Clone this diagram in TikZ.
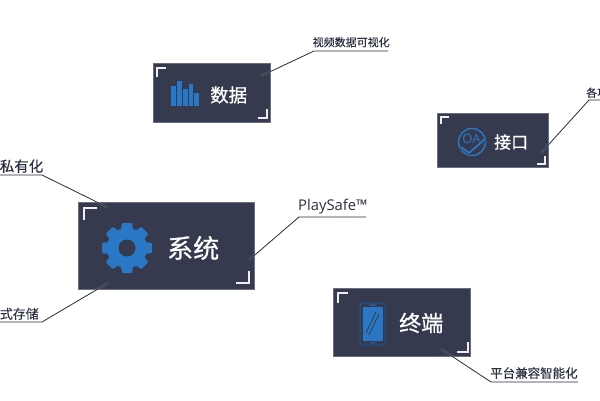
\documentclass[tikz,border=0pt]{standalone}
\usepackage{fontspec}
\setmainfont{Noto Sans CJK SC}
\newfontfamily\titlefont[FakeBold=0.7]{Noto Sans CJK SC}
\newfontfamily\notefont[FakeBold=0.15]{Noto Sans CJK SC}
\newfontfamily\latinfont{Open Sans}
\definecolor{panel}{HTML}{363A4E}
\definecolor{paneledge}{HTML}{6A6E80}
\definecolor{accent}{HTML}{2A78C5}
\definecolor{leader}{HTML}{262A3E}
\definecolor{caption}{HTML}{2A2E40}
\tikzset{
  panelbox/.style={draw=paneledge,line width=0.5pt,fill=panel,inner sep=0pt,anchor=north west},
  title/.style={text=white,inner sep=0pt,anchor=west},
  note/.style={text=caption,inner sep=0pt},
  leaderhalo/.style={draw=white,draw opacity=0.3,line width=1.8pt},
  leaderline/.style={draw=leader,line width=0.8pt},
  corner/.style={draw=white!92!panel,line width=1.2pt},
  icon/.style={fill=accent,draw=none},
}
\begin{document}
\begin{tikzpicture}[x=1pt,y=-1pt]
\useasboundingbox (0,0) rectangle (600,400);
\clip (0,0) rectangle (600,400);

% panels
\node[panelbox,minimum width=117pt,minimum height=59pt] (data) at (153,63) {};
\node[panelbox,minimum width=111pt,minimum height=54pt] (port) at (437,113) {};
\node[panelbox,minimum width=176pt,minimum height=87pt] (sys) at (78,202) {};
\node[panelbox,minimum width=137pt,minimum height=68pt] (term) at (333,288) {};

% corner brackets
\draw[corner] (157,77) -- (157,68) -- (166,68);
\draw[corner] (258,118) -- (267,118) -- (267,109);
\draw[corner] (441,124) -- (441,117) -- (449,117);
\draw[corner] (537,164) -- (545,164) -- (545,156);
\draw[corner] (84,220) -- (84,208) -- (97,208);
\draw[corner] (236,283) -- (249,283) -- (249,271);
\draw[corner] (338,303) -- (338,293) -- (348,293);
\draw[corner] (457,352) -- (468,352) -- (468,342);

% panel titles
\node[title,font=\titlefont\fontsize{18.5}{20}\selectfont] (datat) at (210,95) {数据};
\node[title,font=\titlefont\fontsize{17}{19}\selectfont] (portt) at (494,142) {接口};
\node[title,font=\titlefont\fontsize{26}{28}\selectfont] (syst) at (167,248) {系统};
\node[title,font=\titlefont\fontsize{22}{24}\selectfont] (termt) at (399,323) {终端};

% bar chart icon
\fill[icon] (171,86) rectangle (176,106);
\fill[icon] (177,81) rectangle (182,106);
\fill[icon] (183,89) rectangle (187.5,106);
\fill[icon] (188.5,84) rectangle (193,106);
\fill[icon] (194,93) rectangle (199,106);

% gear icon
\foreach \a in {0,45,...,315}
  \fill[icon,rounded corners=1pt,rotate around={\a:(127,248)}] (122,223) -- (132,223) -- (134,237) -- (120,237) -- cycle;
\fill[icon] (127,248) circle (20);
\fill[panel] (127,248) circle (8.5);

% round badge icon
\draw[accent,line width=1.5pt] (472,142) circle (13.5);
\node[inner sep=0pt,text=accent,font=\latinfont\fontsize{13}{13}\selectfont] (oa) at (471.5,139) {OA};
\draw[panel,line width=3.6pt] (461,147) -- (469,153) -- (485,139);
\draw[accent,line width=1.8pt] (461,147) -- (469,153) -- (485,139);

% phone icon
\draw[accent!70!black,line width=1pt,rounded corners=2.5pt] (360,303) rectangle (385,345);
\fill[accent] (362.5,307) rectangle (382.5,341);
\draw[panel,line width=0.8pt] (366,333) -- (376,312) (369,335) -- (379,314);
\fill[panel!60!accent] (369,304) rectangle (376,306);
\fill[panel!60!accent] (370,342) rectangle (375,344);

% captions
\node[note,anchor=south west,font=\notefont\fontsize{11}{12}\selectfont] (n1) at (312.5,47.5) {视频数据可视化};
\node[note,anchor=south west,font=\notefont\fontsize{11}{12}\selectfont] (n2) at (586,98) {各项};
\node[note,anchor=south east,font=\notefont\fontsize{14.5}{15}\selectfont] (n3) at (43.5,173) {私有化};
\node[note,anchor=south east,font=\notefont\fontsize{13}{14}\selectfont] (n4) at (39,320) {式存储};
\node[note,anchor=south west,font=\latinfont\fontsize{14.8}{17}\selectfont] (n5) at (298,214) {PlaySafe™};
\node[note,anchor=south west,font=\notefont\fontsize{12.5}{14}\selectfont] (n6) at (490,379) {平台兼容智能化};

% leader lines
\coordinate (a1) at (261,76);   \coordinate (b1) at (314,51);  \coordinate (c1) at (388,51);
\coordinate (a2) at (541,153);  \coordinate (b2) at (589,100); \coordinate (c2) at (600,100);
\coordinate (a3) at (107,207);  \coordinate (b3) at (42,175);  \coordinate (c3) at (0,175);
\coordinate (a4) at (108,283);  \coordinate (b4) at (42,322);  \coordinate (c4) at (0,322);
\coordinate (a5) at (249,260);  \coordinate (b5) at (299,217); \coordinate (c5) at (366,217);
\coordinate (a6) at (441,349);  \coordinate (b6) at (491,382); \coordinate (c6) at (578,382);
\foreach \i in {1,...,6} {
  \draw[leaderhalo] (a\i) -- (b\i) -- (c\i);
  \draw[leaderline] (a\i) -- (b\i) -- (c\i);
}
\end{tikzpicture}
\end{document}
